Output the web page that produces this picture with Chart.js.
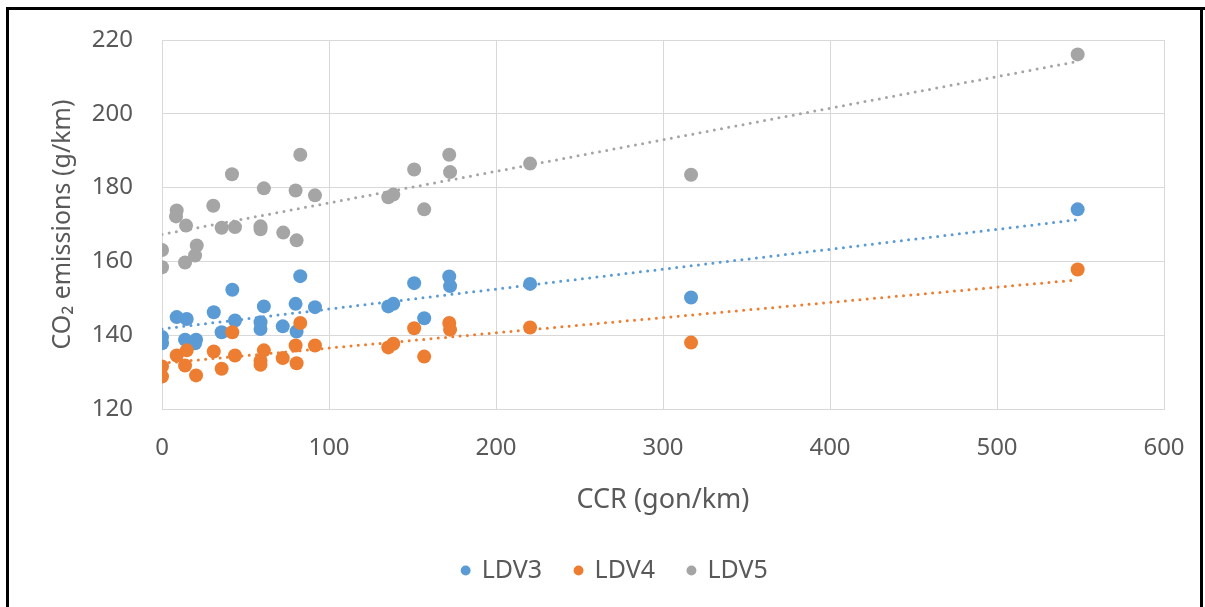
<!DOCTYPE html>
<html>
<head>
<meta charset="utf-8">
<script src="https://cdn.jsdelivr.net/npm/chart.js@4.4.0/dist/chart.umd.min.js"></script>
<style>
    html, body { margin: 0; padding: 0; background: #fff; }
    #wrap { position: relative; width: 1205px; height: 607px; overflow: hidden; }
    .edge { position: absolute; background: #000; }
</style>
</head>
<body>
<div id="wrap">
    <canvas id="myChart" width="1205" height="607"></canvas>
    <div class="edge" style="left:6px;top:7px;width:3px;height:600px"></div>
    <div class="edge" style="left:6px;top:7px;width:1199px;height:2.5px"></div>
    <div class="edge" style="left:1200px;top:7px;width:3px;height:600px"></div>
</div>
<script>
/* Datos */
const seriesNames = ['LDV3', 'LDV4', 'LDV5'];
const seriesColors = ['#5B9BD5', '#ED7D31', '#A5A5A5'];

const ldv3X = [0, 0, 8.8, 14.8, 13.8, 20.4, 19.8, 31, 35.7, 42.1, 43.7, 59, 59, 61, 72.3, 80, 80.6, 82.8, 91.6, 135.5, 138.5, 151, 157, 172, 172.5, 220.4, 316.8, 548.3];
const ldv3Y = [139.5, 137.8, 144.9, 144.4, 138.8, 138.8, 137.8, 146.2, 140.8, 152.3, 144, 143.5, 141.7, 147.8, 142.4, 148.5, 141, 156, 147.6, 147.8, 148.5, 154.1, 144.6, 155.9, 153.3, 153.9, 150.2, 174.1];

const ldv4X = [0, 0, 8.8, 14.8, 13.8, 20.4, 31, 35.7, 42.1, 43.7, 59, 59, 61, 72.3, 80, 80.6, 82.8, 91.6, 135.5, 138.5, 151, 157, 172, 172.5, 220.4, 316.8, 548.3];
const ldv4Y = [131.5, 128.8, 134.5, 135.9, 131.8, 129.1, 135.6, 130.9, 140.8, 134.5, 133.1, 132, 135.9, 133.8, 137.2, 132.4, 143.3, 137.2, 136.7, 137.7, 141.9, 134.2, 143.3, 141.5, 142.1, 138, 157.8];

const ldv5X = [0, 0, 8.8, 8.4, 14.4, 13.8, 20.8, 19.8, 30.7, 35.7, 43.7, 41.9, 61, 59, 59, 72.6, 80, 80.6, 82.8, 91.6, 135.5, 138.5, 151, 157, 172, 172.5, 220.4, 316.8, 548.3];
const ldv5Y = [163.1, 158.4, 173.8, 172.2, 169.7, 159.7, 164.3, 161.6, 175.1, 169.1, 169.3, 183.6, 179.8, 169.5, 168.7, 167.8, 179.2, 165.7, 188.9, 177.9, 177.4, 178.1, 184.9, 174.1, 188.9, 184.2, 186.5, 183.5, 216.1];

/* Líneas de tendencia (extremos) */
const trendX = [0, 548.3];
const trend3Y = [141.7, 171.3];
const trend4Y = [132.4, 155.0];
const trend5Y = [167.3, 214.2];

const xTicks = [0, 100, 200, 300, 400, 500, 600];
const yTicks = [120, 140, 160, 180, 200, 220];

const textColor = '#595959';
const gridColor = '#D9D9D9';

function toPoints(xs, ys) {
    return xs.map((x, i) => ({ x: x, y: ys[i] }));
}

const pointSets = [toPoints(ldv3X, ldv3Y), toPoints(ldv4X, ldv4Y), toPoints(ldv5X, ldv5Y)];
const trendSets = [toPoints(trendX, trend3Y), toPoints(trendX, trend4Y), toPoints(trendX, trend5Y)];

const datasets = [];
pointSets.forEach((pts, i) => {
    datasets.push({
        type: 'scatter',
        label: seriesNames[i],
        data: pts,
        backgroundColor: seriesColors[i],
        borderColor: seriesColors[i],
        borderWidth: 0,
        pointRadius: 7,
        pointHoverRadius: 7,
        order: 3 - i
    });
});
trendSets.forEach((pts, i) => {
    datasets.push({
        type: 'line',
        label: 'trend ' + seriesNames[i],
        data: pts,
        showLine: true,
        fill: false,
        borderColor: seriesColors[i],
        borderWidth: 3,
        borderDash: [0, 7.3],
        borderCapStyle: 'round',
        pointRadius: 0,
        pointHoverRadius: 0,
        order: 10
    });
});

Chart.defaults.font.family = '"Noto Sans", "Open Sans", sans-serif';
Chart.defaults.color = textColor;

const myChart = new Chart(document.getElementById('myChart'), {
    type: 'scatter',
    data: { datasets: datasets },
    options: {
        responsive: false,
        animation: false,
        layout: { padding: { left: 66, top: 40, right: 41, bottom: 14 } },
        plugins: {
            tooltip: { enabled: false },
            legend: {
                position: 'bottom',
                labels: {
                    usePointStyle: true,
                    pointStyle: 'circle',
                    boxWidth: 7,
                    boxHeight: 7,
                    padding: 33,
                    color: textColor,
                    font: { size: 25 },
                    filter: item => item.datasetIndex < 3,
                    sort: (a, b) => a.datasetIndex - b.datasetIndex
                }
            }
        },
        scales: {
            x: {
                type: 'linear',
                min: xTicks[0],
                max: xTicks[xTicks.length - 1],
                afterBuildTicks: s => { s.ticks = xTicks.map(v => ({ value: v })); },
                afterFit: s => { s.height = 116; s.paddingLeft = 0; s.paddingRight = 0; },
                ticks: { font: { size: 24 }, color: textColor, padding: 25 },
                grid: { color: gridColor, lineWidth: 1, drawTicks: false },
                border: { color: gridColor },
                title: {
                    display: true,
                    text: 'CCR (gon/km)',
                    color: textColor,
                    font: { size: 27 },
                    padding: { top: 0, bottom: 8 }
                }
            },
            y: {
                type: 'linear',
                min: yTicks[0],
                max: yTicks[yTicks.length - 1],
                afterBuildTicks: s => { s.ticks = yTicks.map(v => ({ value: v })); },
                afterFit: s => { s.width = 96; s.paddingTop = 0; s.paddingBottom = 0; },
                ticks: { font: { size: 24 }, color: textColor, padding: 29 },
                grid: { color: gridColor, lineWidth: 1, drawTicks: false },
                border: { color: gridColor },
                title: {
                    display: true,
                    text: 'CO₂ emissions (g/km)',
                    color: textColor,
                    font: { size: 25 },
                    padding: { top: -18, bottom: 0 }
                }
            }
        }
    }
});
</script>
</body>
</html>
